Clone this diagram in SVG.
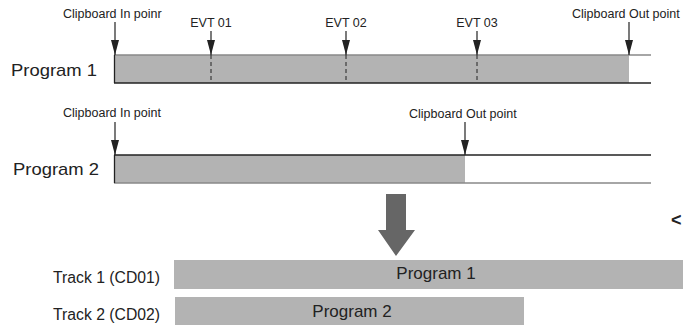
<svg xmlns="http://www.w3.org/2000/svg" width="683" height="325" viewBox="0 0 683 325">
<style>
text{font-family:"Liberation Sans",Arial,sans-serif;fill:#222}
.s{font-size:12.5px}
.m{font-size:17px}
.t{font-size:16px}
.bar{fill:#b3b3b3}
.dk{stroke:#222;stroke-width:1.3;fill:none}
.lt{stroke:#888;stroke-width:1.3;fill:none}
.ar{stroke:#222;stroke-width:1.2;fill:none;marker-end:url(#ah)}
.ds{stroke:#222;stroke-width:1;stroke-dasharray:4,3;fill:none}
</style>
<defs>
<marker id="ah" markerWidth="16" markerHeight="8" refX="15" refY="4" orient="auto" markerUnits="userSpaceOnUse" viewBox="0 0 16 8">
<path d="M0,0 L15,4 L0,8 Z" fill="#222"/>
</marker>
</defs>
<g id="program1">
<rect class="bar" x="114" y="55" width="515" height="28"/>
<line class="lt" x1="114" y1="55" x2="651" y2="55"/>
<line class="dk" x1="114" y1="83" x2="651" y2="83"/>
<line class="dk" x1="114.5" y1="55" x2="114.5" y2="83" stroke="#555"/>
<text class="m" x="11" y="76" textLength="86" lengthAdjust="spacingAndGlyphs">Program 1</text>
</g>
<g id="program2">
<rect class="bar" x="114" y="155" width="351" height="28"/>
<line class="dk" x1="114" y1="155" x2="651" y2="155"/>
<line class="lt" x1="114" y1="183" x2="651" y2="183"/>
<line class="dk" x1="114.5" y1="155" x2="114.5" y2="183"/>
<text class="m" x="13" y="175" textLength="86" lengthAdjust="spacingAndGlyphs">Program 2</text>
</g>
<g id="labels">
<text class="s" x="63" y="18">Clipboard In poinr</text>
<text class="s" x="211" y="27" text-anchor="middle">EVT 01</text>
<text class="s" x="346" y="27" text-anchor="middle">EVT 02</text>
<text class="s" x="477" y="27" text-anchor="middle">EVT 03</text>
<text class="s" x="572" y="18">Clipboard Out point</text>
<text class="s" x="63" y="117">Clipboard In point</text>
<text class="s" x="409" y="118">Clipboard Out point</text>
</g>
<g id="connectors">
<line class="ar" x1="115" y1="22" x2="115" y2="55"/>
<line class="ar" x1="211" y1="31" x2="211" y2="55"/>
<line class="ar" x1="346" y1="31" x2="346" y2="55"/>
<line class="ar" x1="477" y1="31" x2="477" y2="55"/>
<line class="ar" x1="629" y1="22" x2="629" y2="55"/>
<line class="ds" x1="211" y1="55" x2="211" y2="83"/>
<line class="ds" x1="346" y1="55" x2="346" y2="83"/>
<line class="ds" x1="477" y1="55" x2="477" y2="83"/>
<line class="ar" x1="115" y1="122" x2="115" y2="155"/>
<line class="ar" x1="465" y1="122" x2="465" y2="155"/>
</g>
<g id="bigarrow">
<path d="M386,194 H406 V230 H415 L396,256 L378,230 H386 Z" fill="#666"/>
</g>
<text x="671" y="226" style="font-size:18px;font-weight:bold" fill="#111">&lt;</text>
<g id="track1">
<rect class="bar" x="174" y="260" width="509" height="29"/>
<text class="t" x="53" y="283" textLength="107" lengthAdjust="spacingAndGlyphs">Track 1 (CD01)</text>
<text class="m" x="436" y="279" text-anchor="middle">Program 1</text>
</g>
<g id="track2">
<rect class="bar" x="175" y="297" width="349" height="28"/>
<text class="t" x="53" y="320" textLength="107" lengthAdjust="spacingAndGlyphs">Track 2 (CD02)</text>
<text class="m" x="352" y="317" text-anchor="middle">Program 2</text>
</g>
</svg>
